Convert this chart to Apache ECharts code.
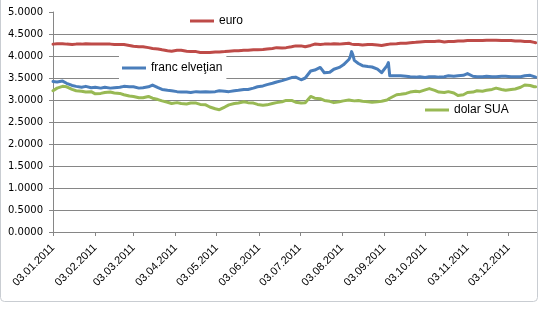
<!DOCTYPE html>
<html>
<head>
<meta charset="utf-8">
<script src="https://cdn.jsdelivr.net/npm/echarts@6/dist/echarts.min.js"></script>
<style>
  html, body { margin: 0; padding: 0; background: #fff; }
  #chart { width: 539px; height: 331px; }
</style>
</head>
<body>
<div id="chart"></div>
<script>
// Cursuri de schimb 2011 (lei pentru o unitate de valută)
const dates = [
  '2011-01-03','2011-01-06','2011-01-10','2011-01-13','2011-01-17','2011-01-20','2011-01-24','2011-01-27','2011-01-31',
  '2011-02-03','2011-02-07','2011-02-10','2011-02-14','2011-02-17','2011-02-21','2011-02-24','2011-02-28',
  '2011-03-03','2011-03-07','2011-03-10','2011-03-14','2011-03-17','2011-03-21','2011-03-24','2011-03-28','2011-03-31',
  '2011-04-04','2011-04-07','2011-04-11','2011-04-14','2011-04-18','2011-04-21','2011-04-25','2011-04-28',
  '2011-05-02','2011-05-05','2011-05-09','2011-05-12','2011-05-16','2011-05-19','2011-05-23','2011-05-26','2011-05-30',
  '2011-06-02','2011-06-06','2011-06-09','2011-06-13','2011-06-16','2011-06-20','2011-06-23','2011-06-27','2011-06-30',
  '2011-07-04','2011-07-07','2011-07-11','2011-07-14','2011-07-18','2011-07-21','2011-07-25','2011-07-28',
  '2011-08-01','2011-08-04','2011-08-08','2011-08-09','2011-08-10','2011-08-11','2011-08-12','2011-08-15','2011-08-18','2011-08-22','2011-08-25','2011-08-29',
  '2011-09-01','2011-09-05','2011-09-06','2011-09-07','2011-09-08','2011-09-12','2011-09-15','2011-09-19','2011-09-22','2011-09-26','2011-09-29',
  '2011-10-03','2011-10-06','2011-10-10','2011-10-13','2011-10-17','2011-10-20','2011-10-24','2011-10-27','2011-10-31',
  '2011-11-03','2011-11-07','2011-11-10','2011-11-14','2011-11-17','2011-11-21','2011-11-24','2011-11-28',
  '2011-12-01','2011-12-05','2011-12-08','2011-12-12','2011-12-15','2011-12-19','2011-12-22','2011-12-23'
];

const euro = [
  4.27,4.28,4.28,4.27,4.26,4.27,4.27,4.28,4.27,
  4.27,4.27,4.27,4.27,4.26,4.26,4.26,4.24,
  4.22,4.21,4.21,4.19,4.17,4.16,4.14,4.12,4.11,
  4.13,4.13,4.11,4.10,4.10,4.08,4.08,4.08,
  4.09,4.09,4.10,4.11,4.12,4.12,4.13,4.13,4.14,
  4.14,4.15,4.16,4.17,4.19,4.18,4.19,4.21,4.23,
  4.23,4.21,4.24,4.27,4.26,4.27,4.27,4.28,
  4.27,4.28,4.29,4.28,4.27,4.27,4.26,4.26,4.25,4.26,4.26,4.25,
  4.24,4.26,4.27,4.27,4.27,4.28,4.29,4.29,4.30,4.31,4.32,
  4.33,4.33,4.33,4.34,4.32,4.33,4.33,4.34,4.34,
  4.35,4.35,4.35,4.35,4.36,4.36,4.36,4.35,
  4.35,4.35,4.34,4.34,4.33,4.33,4.31,4.30
];

const francElvetian = [
  3.42,3.41,3.43,3.38,3.33,3.31,3.29,3.31,3.28,
  3.29,3.27,3.29,3.27,3.28,3.29,3.31,3.30,
  3.30,3.27,3.28,3.30,3.34,3.28,3.24,3.22,3.21,
  3.19,3.18,3.18,3.17,3.19,3.18,3.19,3.18,
  3.19,3.21,3.20,3.19,3.21,3.22,3.24,3.24,3.27,
  3.30,3.32,3.35,3.38,3.41,3.44,3.47,3.51,3.52,
  3.46,3.50,3.66,3.68,3.74,3.62,3.63,3.70,
  3.74,3.80,3.92,3.98,4.10,4.02,3.90,3.83,3.78,3.76,3.75,3.70,
  3.62,3.78,3.85,3.55,3.56,3.55,3.55,3.54,3.53,3.52,3.53,
  3.51,3.53,3.53,3.52,3.53,3.55,3.54,3.55,3.56,
  3.60,3.54,3.53,3.53,3.54,3.53,3.53,3.54,
  3.54,3.53,3.53,3.53,3.55,3.56,3.53,3.52
];

const dolarSUA = [
  3.21,3.27,3.31,3.30,3.24,3.21,3.20,3.18,3.19,
  3.14,3.15,3.17,3.18,3.16,3.15,3.12,3.09,
  3.08,3.05,3.05,3.08,3.04,3.01,2.98,2.95,2.92,
  2.94,2.92,2.91,2.93,2.93,2.90,2.89,2.84,
  2.80,2.78,2.84,2.89,2.92,2.93,2.96,2.94,2.93,
  2.90,2.88,2.89,2.92,2.94,2.96,2.99,2.99,2.95,
  2.93,2.94,3.08,3.04,3.03,2.99,2.97,2.94,
  2.96,2.98,3.00,3.01,2.99,2.98,2.98,2.99,2.97,2.96,2.95,2.96,
  2.97,3.00,3.03,3.04,3.06,3.12,3.13,3.15,3.18,3.20,3.19,
  3.23,3.26,3.22,3.18,3.17,3.19,3.16,3.10,3.12,
  3.17,3.18,3.21,3.20,3.22,3.24,3.27,3.24,
  3.22,3.24,3.25,3.29,3.34,3.33,3.30,3.30
];

// Date ticks: the 3rd of every month
const tickDates = [
  '2011-01-03','2011-02-03','2011-03-03','2011-04-03','2011-05-03','2011-06-03',
  '2011-07-03','2011-08-03','2011-09-03','2011-10-03','2011-11-03','2011-12-03'
];
const yTicks = [0, 0.5, 1, 1.5, 2, 2.5, 3, 3.5, 4, 4.5, 5];

function ts(s) {
  const p = s.split('-').map(Number);
  return new Date(p[0], p[1] - 1, p[2]).getTime();
}
function pad(n) { return (n < 10 ? '0' : '') + n; }
function fmtDate(v) {
  const d = new Date(v);
  return pad(d.getDate()) + '.' + pad(d.getMonth() + 1) + '.' + d.getFullYear();
}
function pairs(vals) { return dates.map((d, i) => [ts(d), vals[i]]); }

const tickTs = tickDates.map(ts);
const axisGray = '#868686';
const colors = { euro: '#BE4B48', franc: '#4A7EBB', dolar: '#98B954' };

const lineSeries = (name, vals, color) => ({
  name: name,
  type: 'line',
  data: pairs(vals),
  showSymbol: false,
  symbol: 'none',
  smooth: false,
  lineStyle: { color: color, width: 3, join: 'round', cap: 'round' },
  itemStyle: { color: color },
  emphasis: { disabled: true },
  animation: false
});

const legendBase = {
  orient: 'horizontal',
  icon: 'rect',
  itemWidth: 24,
  itemHeight: 3,
  selectedMode: false,
  textStyle: { fontFamily: 'Liberation Sans', fontSize: 12, color: '#000', lineHeight: 14 }
};

const chart = echarts.init(document.getElementById('chart'), null, { renderer: 'canvas' });
chart.setOption({
  backgroundColor: '#fff',
  animation: false,
  color: [colors.euro, colors.franc, colors.dolar],
  grid: { left: 53, right: 2, top: 12, bottom: 99, containLabel: false },
  xAxis: {
    type: 'value',
    min: ts('2011-01-03'),
    max: ts('2011-12-24'),
    axisLine: { show: true, onZero: false, lineStyle: { color: axisGray, width: 1 } },
    axisTick: { show: true, length: 4, lineStyle: { color: axisGray }, customValues: tickTs },
    axisLabel: {
      customValues: tickTs,
      rotate: 45,
      margin: 14,
      fontFamily: 'Liberation Sans',
      fontSize: 11,
      color: '#000',
      formatter: fmtDate
    },
    splitLine: { show: false }
  },
  yAxis: {
    type: 'value',
    min: yTicks[0],
    max: yTicks[yTicks.length - 1],
    interval: 0.5,
    axisLine: { show: true, lineStyle: { color: axisGray, width: 1 } },
    axisTick: { show: true, length: 4, lineStyle: { color: axisGray } },
    axisLabel: {
      margin: 10,
      fontFamily: 'DejaVu Sans',
      fontSize: 10,
      color: '#000',
      formatter: v => v.toFixed(4)
    },
    splitLine: { show: true, showMinLine: false, showMaxLine: false, lineStyle: { color: axisGray, width: 1 } }
  },
  legend: [
    Object.assign({}, legendBase, { data: ['euro'], left: 190, top: 14, padding: 0 }),
    Object.assign({}, legendBase, { data: ['franc elveţian'], left: 119, top: 56, padding: [5, 4, 5, 3], backgroundColor: '#fff' }),
    Object.assign({}, legendBase, { data: ['dolar SUA'], left: 425, top: 103, padding: 0 })
  ],
  series: [
    lineSeries('euro', euro, colors.euro),
    lineSeries('franc elveţian', francElvetian, colors.franc),
    lineSeries('dolar SUA', dolarSUA, colors.dolar)
  ],
  graphic: [{
    type: 'rect',
    silent: true,
    z: 100,
    shape: { x: 0.5, y: -6, width: 537, height: 307.5, r: 4 },
    style: { fill: 'none', stroke: '#C9CDD2', lineWidth: 1 }
  }]
});
</script>
</body>
</html>
